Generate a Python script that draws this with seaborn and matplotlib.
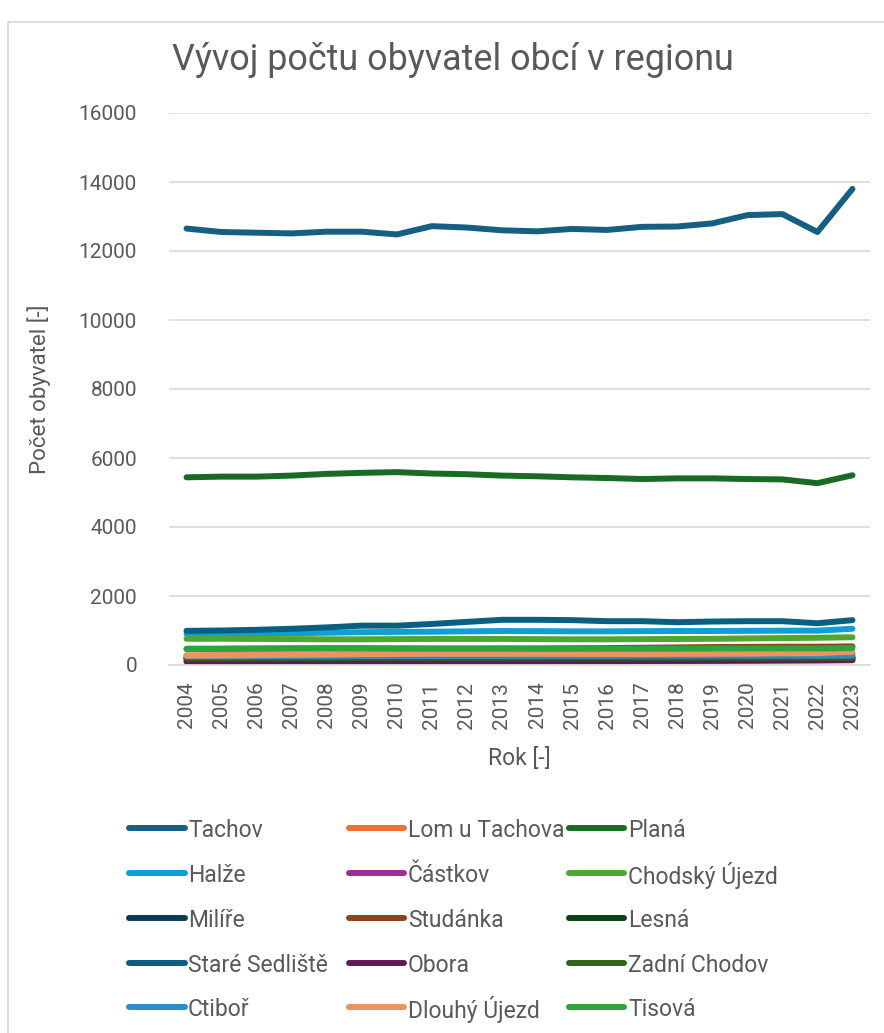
import matplotlib
matplotlib.use("Agg")
import matplotlib.pyplot as plt
import seaborn as sns
import pandas as pd
from matplotlib.patches import Rectangle
from matplotlib.lines import Line2D

years = list(range(2004, 2024))

tachov = [12650, 12550, 12530, 12510, 12560, 12560, 12480, 12720, 12680, 12600,
          12570, 12640, 12610, 12700, 12710, 12800, 13040, 13070, 12550, 13800]
lom_u_tachova = [280, 282, 285, 290, 295, 300, 305, 305, 308, 310,
                 310, 310, 308, 308, 310, 312, 315, 318, 320, 330]
plana = [5440, 5460, 5460, 5490, 5540, 5570, 5590, 5550, 5530, 5490,
         5470, 5440, 5420, 5390, 5410, 5410, 5390, 5380, 5270, 5500]
halze = [900, 905, 910, 920, 935, 950, 960, 965, 975, 985,
         980, 975, 975, 980, 985, 985, 990, 995, 995, 1050]
castkov = [120, 120, 122, 122, 125, 125, 125, 125, 125, 125,
           125, 128, 128, 130, 130, 132, 132, 135, 135, 138]
chodsky_ujezd = [760, 760, 755, 750, 745, 745, 750, 755, 755, 755,
                 750, 745, 745, 750, 755, 760, 770, 780, 790, 805]
milire = [200, 200, 202, 205, 205, 205, 208, 208, 210, 210,
          210, 210, 212, 212, 212, 215, 215, 215, 218, 220]
studanka = [470, 470, 475, 480, 485, 485, 480, 478, 478, 480,
            480, 485, 490, 500, 510, 520, 525, 530, 530, 540]
lesna = [180, 180, 182, 182, 185, 185, 185, 185, 188, 188,
         188, 190, 190, 190, 192, 192, 195, 195, 195, 198]
stare_sedliste = [990, 1000, 1020, 1050, 1090, 1140, 1140, 1190, 1250, 1310,
                  1310, 1300, 1270, 1270, 1240, 1260, 1270, 1270, 1210, 1300]
obora = [100, 100, 102, 105, 105, 105, 105, 105, 105, 105,
         108, 110, 112, 115, 118, 120, 125, 130, 135, 145]
zadni_chodov = [195, 195, 198, 200, 202, 205, 208, 210, 210, 212,
                212, 212, 212, 210, 210, 210, 210, 212, 212, 212]
ctibor = [250, 250, 252, 255, 255, 258, 260, 260, 262, 262,
          265, 265, 265, 268, 268, 270, 270, 272, 272, 275]
dlouhy_ujezd = [270, 275, 285, 295, 305, 315, 320, 325, 325, 325,
                325, 322, 320, 320, 322, 325, 330, 340, 345, 385]
tisova = [465, 470, 475, 478, 480, 478, 475, 472, 470, 470,
          468, 468, 470, 472, 475, 478, 480, 482, 480, 490]

names = ["Tachov", "Lom u Tachova", "Planá", "Halže", "Částkov", "Chodský Újezd",
         "Milíře", "Studánka", "Lesná", "Staré Sedliště", "Obora", "Zadní Chodov",
         "Ctiboř", "Dlouhý Újezd", "Tisová"]
series = [tachov, lom_u_tachova, plana, halze, castkov, chodsky_ujezd,
          milire, studanka, lesna, stare_sedliste, obora, zadni_chodov,
          ctibor, dlouhy_ujezd, tisova]
colors = ["#156082", "#E97132", "#196B24", "#0F9ED5", "#A02B93", "#4EA72E",
          "#0D3A4E", "#8C4418", "#0F4016", "#095F80", "#601A58", "#2F641C",
          "#2A8FC8", "#EE9260", "#2CA63C"]

rows = []
for n, s in zip(names, series):
    for y, v in zip(years, s):
        rows.append({"Rok": str(y), "Obec": n, "Počet": v})
df = pd.DataFrame(rows)

sns.set_theme(style="white")
plt.rcParams["font.family"] = ["Roboto", "DejaVu Sans"]
grey = "#595959"
LW = 4.3

W, H = 884, 1033
fig = plt.figure(figsize=(W / 100, H / 100), dpi=100)
ax = fig.add_axes([169 / W, 1 - 665 / H, (870 - 169) / W, (665 - 113) / H])

sns.lineplot(data=df, x="Rok", y="Počet", hue="Obec", hue_order=names,
             palette=dict(zip(names, colors)), linewidth=LW, ax=ax, legend=False,
             sort=False)
for ln in ax.get_lines():
    ln.set_solid_capstyle("round")
    ln.set_solid_joinstyle("round")

ax.set_xlim(-0.5, len(years) - 0.5)
ax.set_ylim(0, 16000)
ax.set_yticks(range(0, 16001, 2000))
ax.set_yticklabels([str(v) for v in range(0, 16001, 2000)])
ax.yaxis.grid(True, color="#D9D9D9", linewidth=1.2)
ax.xaxis.grid(False)
for sp in ["top", "right", "left"]:
    ax.spines[sp].set_visible(False)
ax.spines["bottom"].set_color("#D9D9D9")
ax.spines["bottom"].set_linewidth(1.2)
ax.tick_params(axis="both", length=0, colors=grey, labelsize=15)
ax.tick_params(axis="x", rotation=90, pad=12)
ax.tick_params(axis="y", pad=23)
ax.set_xlabel("Rok [-]", fontsize=16.5, color=grey, labelpad=13)
ax.set_ylabel("Počet obyvatel [-]", fontsize=16, color=grey, labelpad=20)

fig.text(453 / W, 1 - 60 / H, "Vývoj počtu obyvatel obcí v regionu",
         ha="center", va="center", fontsize=25.8, color=grey)

# chart border
fig.patches.append(Rectangle((8 / W, -0.02), 1.0, 1 - 22 / H + 0.02,
                             transform=fig.transFigure, fill=False,
                             edgecolor="#D9D9D9", linewidth=1.2))

# legend: three columns, row-major order like the source
col_line = [(129, 185), (349, 404), (569, 624)]
col_text = [188, 408, 628]
row_y = [828, 873, 918, 963, 1007]
for i, (n, c) in enumerate(zip(names, colors)):
    r, k = divmod(i, 3)
    y = 1 - row_y[r] / H
    x0, x1 = col_line[k]
    fig.add_artist(Line2D([x0 / W, x1 / W], [y, y], transform=fig.transFigure,
                          color=c, linewidth=LW, solid_capstyle="round"))
    fig.text(col_text[k] / W, y, n, ha="left", va="center_baseline",
             fontsize=16.5, color=grey)

fig.savefig("out.png", dpi=100)
